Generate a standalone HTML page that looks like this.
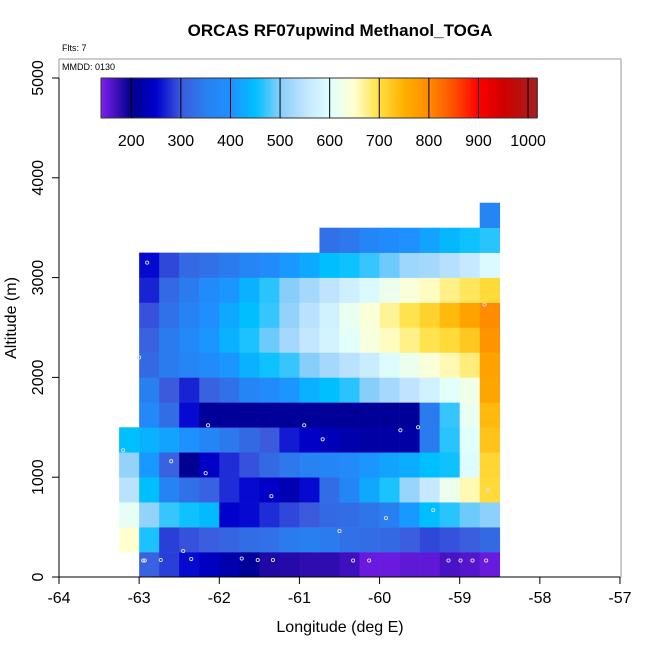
<!DOCTYPE html>
<html><head><meta charset="utf-8"><style>
body{margin:0;background:#fff}
svg{display:block;font-family:"Liberation Sans",sans-serif}
</style></head><body>
<svg id="chart" width="650" height="650" viewBox="0 0 650 650">
<text x="340" y="36" text-anchor="middle" font-size="17" font-weight="bold">ORCAS RF07upwind Methanol_TOGA</text>
<text x="62" y="51" font-size="9">Flts: 7</text>
<rect x="59" y="59" width="562" height="518" fill="none" stroke="#999" stroke-width="1"/>
<text x="62" y="70" font-size="9">MMDD: 0130</text>
<g id="cells"></g>
<g id="pts"></g>
<g id="cbar"></g>
<g id="axes"></g>
<text x="340" y="632" text-anchor="middle" font-size="16">Longitude (deg E)</text>
<text transform="translate(16,318) rotate(-90)" text-anchor="middle" font-size="16">Altitude (m)</text>
</svg>
<script>
const lonStart = -63.25, lonStep = 0.25, altStep = 250;
// rows from bottom (0-250 m) upward; null = no data
const row0 = [null,310,285,255,240,225,210,185,182,178,178,170,150,150,155,155,165,160,150];
const row1 = [650,460,285,295,305,315,325,330,345,350,345,330,325,320,305,290,295,305,320];
const row2 = [610,510,470,455,445,250,255,275,290,300,320,325,335,350,410,450,465,490,505];
const row3 = [545,450,360,330,310,275,255,245,230,255,325,370,425,460,515,560,620,660,705];
const row4 = [510,410,310,205,245,275,295,320,340,355,370,380,405,420,430,450,455,595,710];
const row5 = [450,435,420,400,370,340,320,300,265,245,235,225,220,220,220,345,465,600,730];
const row6 = [null,375,325,255,210,210,210,210,210,210,210,210,210,210,210,345,470,615,740];
const row7 = [null,350,300,270,310,330,365,385,405,435,450,465,500,525,550,575,605,625,765];
const row8 = [null,320,345,365,385,405,435,455,470,500,525,545,565,595,620,640,660,680,770];
const row9 = [null,310,345,375,405,435,460,490,525,555,580,605,635,655,675,695,705,725,790];
const row10 = [null,295,330,360,395,425,450,470,510,545,575,615,640,670,695,715,740,770,800];
const row11 = [null,270,320,345,385,405,435,465,500,525,550,570,590,620,640,655,675,690,705];
const row12 = [null,255,290,320,330,345,365,385,410,425,450,455,470,490,520,525,540,560,590];
const row13 = [null,null,null,null,null,null,null,null,null,null,330,340,370,385,400,420,440,455,465];
const row14 = [null,null,null,null,null,null,null,null,null,null,null,null,null,null,null,null,null,null,365];
const rows = [row0,row1,row2,row3,row4,row5,row6,row7,row8,row9,row10,row11,row12,row13,row14];
const ptLon = [-62.95,-62.93,-62.73,-62.35,-61.72,-61.52,-61.33,-60.33,-60.13,-59.14,-58.99,-58.84,-58.67,-62.9,-58.69,-63.0,-62.14,-60.94,-59.74,-59.52,-63.2,-60.71,-62.6,-62.17,-61.35,-58.65,-59.33,-59.92,-60.5,-62.45];
const ptAlt = [165,165,170,180,185,170,170,165,165,165,165,165,165,3150,2730,2200,1520,1520,1470,1500,1270,1380,1160,1040,810,870,670,590,460,260];
const cbTicks = [200,300,400,500,600,700,800,900,1000];
const xTicks = [-64,-63,-62,-61,-60,-59,-58,-57];
const yTicks = [0,1000,2000,3000,4000,5000];

const xs = lon => 59 + (lon + 64) * 80.14;
const ys = alt => 577 - alt * 0.0998;
const cs = v => 101 + (v - 139) * (436 / (1018 - 139));
const stops = [[139,[128,32,240]],[200,[0,0,139]],[250,[0,0,205]],[300,[60,90,220]],[350,[40,128,240]],[400,[30,144,255]],[450,[0,191,255]],[500,[135,206,250]],[550,[192,228,255]],[600,[224,255,255]],[650,[255,255,208]],[700,[255,224,64]],[750,[255,176,0]],[800,[255,140,0]],[850,[255,80,0]],[900,[255,0,0]],[950,[208,0,0]],[1018,[165,32,32]]];
function col(v){
  for(let i=0;i<stops.length-1;i++){
    const [a,ca]=stops[i],[b,cb]=stops[i+1];
    if(v<=b){const t=Math.max(0,(v-a)/(b-a));return 'rgb('+ca.map((c,k)=>Math.round(c+(cb[k]-c)*t)).join(',')+')';}
  }
  return 'rgb(165,32,32)';
}
const NS='http://www.w3.org/2000/svg';
function mk(tag,attrs,parent){const e=document.createElementNS(NS,tag);for(const k in attrs)e.setAttribute(k,attrs[k]);parent.appendChild(e);return e;}
const gc=document.getElementById('cells');
rows.forEach((r,ri)=>r.forEach((v,ci)=>{
  if(v===null)return;
  const lon=lonStart+ci*lonStep, alt=ri*altStep;
  const x0=xs(lon), x1=xs(lon+lonStep), y0=ys(alt+altStep), y1=ys(alt);
  const e=mk('rect',{x:x0,y:y0,width:x1-x0+0.3,height:y1-y0+0.3,fill:col(v)},gc);
  
  
}));
const gp=document.getElementById('pts');
ptLon.forEach((lo,i)=>{
  const e=mk('circle',{cx:xs(lo),cy:ys(ptAlt[i]),r:1.6,fill:'none',stroke:'#dde',"stroke-width":0.9},gp);
  
  
});
const gb=document.getElementById('cbar');
for(let v=139;v<1018;v+=2){
  mk('rect',{x:cs(v),y:78,width:cs(v+2)-cs(v)+0.4,height:40,fill:col(v+1)},gb);
}
mk('rect',{x:101,y:78,width:436,height:40,fill:'none',stroke:'#333','stroke-width':1},gb);
cbTicks.forEach(t=>{
  const l=mk('line',{x1:cs(t),x2:cs(t),y1:78,y2:118,stroke:'#000','stroke-width':1},gb);
  
  
  const e=mk('text',{x:cs(t),y:146,'text-anchor':'middle','font-size':16},gb);
  e.textContent=t;
  
  
});
const ga=document.getElementById('axes');
mk('line',{x1:xs(-64),x2:xs(-57),y1:577,y2:577,stroke:'#000'},ga);
mk('line',{x1:59,x2:59,y1:ys(0),y2:ys(5000),stroke:'#000'},ga);
xTicks.forEach(t=>{
  mk('line',{x1:xs(t),x2:xs(t),y1:577,y2:584,stroke:'#000'},ga);
  const e=mk('text',{x:xs(t),y:603,'text-anchor':'middle','font-size':16},ga);
  e.textContent=t;
  
  
});
yTicks.forEach(t=>{
  mk('line',{x1:52,x2:59,y1:ys(t),y2:ys(t),stroke:'#000'},ga);
  const e=mk('text',{transform:'translate(43,'+ys(t)+') rotate(-90)','text-anchor':'middle','font-size':16},ga);
  e.textContent=t;
  
  
});
</script>
</body></html>
